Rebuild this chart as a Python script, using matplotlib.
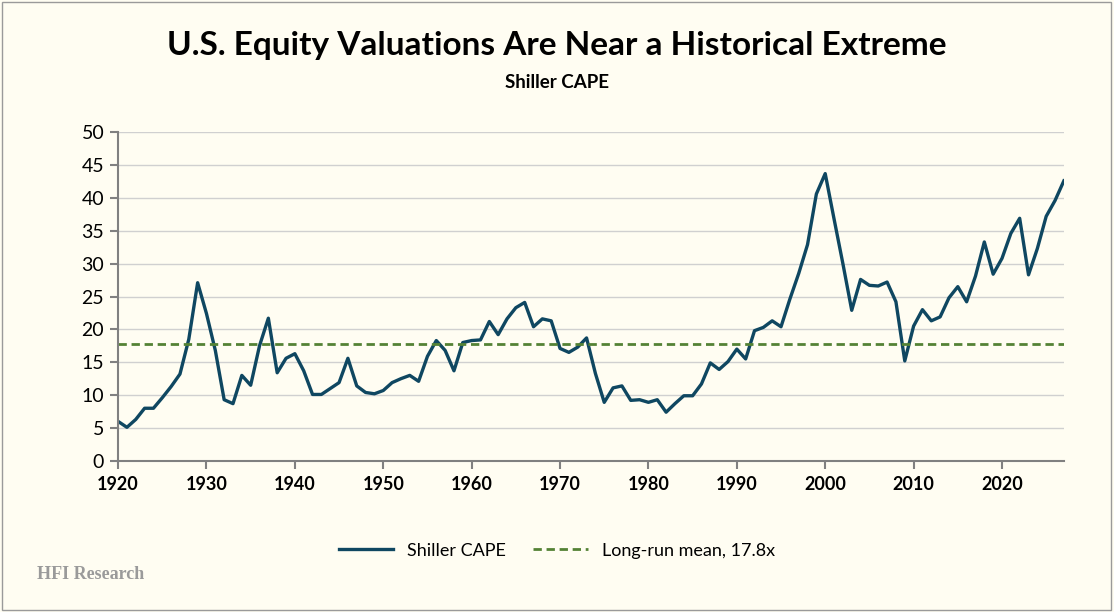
import matplotlib
matplotlib.use('Agg')
import matplotlib.pyplot as plt
from matplotlib.patches import Rectangle

years = list(range(1920, 2028))
cape = [6.0, 5.1, 6.3, 8.0, 8.0, 9.6, 11.3, 13.2, 18.5, 27.1,
        22.4, 16.8, 9.3, 8.7, 13.0, 11.5, 17.5, 21.7, 13.4, 15.6,
        16.3, 13.7, 10.1, 10.1, 11.0, 11.9, 15.6, 11.4, 10.4, 10.2,
        10.7, 11.9, 12.5, 13.0, 12.1, 15.9, 18.3, 16.8, 13.7, 18.0,
        18.3, 18.4, 21.2, 19.2, 21.6, 23.3, 24.1, 20.4, 21.6, 21.3,
        17.1, 16.5, 17.3, 18.7, 13.3, 8.9, 11.1, 11.4, 9.2, 9.3,
        8.9, 9.3, 7.4, 8.7, 9.9, 9.9, 11.7, 14.9, 13.9, 15.1,
        17.0, 15.5, 19.8, 20.3, 21.3, 20.4, 24.6, 28.5, 32.9, 40.6,
        43.7, 36.8, 30.0, 22.9, 27.6, 26.7, 26.6, 27.2, 24.2, 15.2,
        20.5, 23.0, 21.3, 21.9, 24.8, 26.5, 24.2, 28.1, 33.3, 28.4,
        30.8, 34.6, 36.9, 28.3, 32.3, 37.2, 39.6, 42.6]
mean_val = 17.8

bg = '#FFFDF2'
plt.rcParams['font.family'] = ['Lato', 'DejaVu Sans']

fig = plt.figure(figsize=(11.14, 6.12), dpi=100, facecolor=bg)
fig.patches.append(Rectangle((0.002, 0.003), 0.995, 0.993, transform=fig.transFigure,
                             fill=False, edgecolor='#9a9a9a', linewidth=1))
ax = fig.add_axes([0.106, 0.247, 0.849, 0.537], facecolor=bg)

ax.plot(years, cape, color='#0f4761', linewidth=2.4, label='Shiller CAPE')
ax.axhline(mean_val, color='#548235', linewidth=2, linestyle=(0, (3, 1.7)),
           label='Long-run mean, 17.8x')

ax.set_xlim(1920, 2027)
ax.set_ylim(0, 50)
ax.set_xticks(range(1920, 2021, 10))
ax.set_yticks(range(0, 51, 5))
ax.yaxis.grid(True, color='#d0d0d0', linewidth=1)
ax.set_axisbelow(True)
for s in ['top', 'right']:
    ax.spines[s].set_visible(False)
for s in ['left', 'bottom']:
    ax.spines[s].set_color('#808080')
    ax.spines[s].set_linewidth(1.5)
ax.tick_params(axis='y', length=6, width=1.5, color='#808080', labelsize=14, pad=4)
ax.tick_params(axis='x', length=6, width=1.5, color='#808080', labelsize=13, pad=5)
for lbl in ax.get_xticklabels():
    lbl.set_fontweight('bold')

fig.text(0.5, 0.925, 'U.S. Equity Valuations Are Near a Historical Extreme',
         ha='center', va='center', fontsize=24, fontweight='bold')
fig.text(0.5, 0.865, 'Shiller CAPE', ha='center', va='center', fontsize=13.5, fontweight='bold')

fig.legend(loc='center', bbox_to_anchor=(0.5, 0.1), ncol=2, frameon=False,
           fontsize=13, handlelength=3, columnspacing=1.5)

fig.text(0.033, 0.062, 'HFI Research', ha='left', va='center', fontsize=13,
         fontweight='bold', color='#9a9a9a', family='Liberation Serif')

fig.savefig('out.png', dpi=100, facecolor=bg)
